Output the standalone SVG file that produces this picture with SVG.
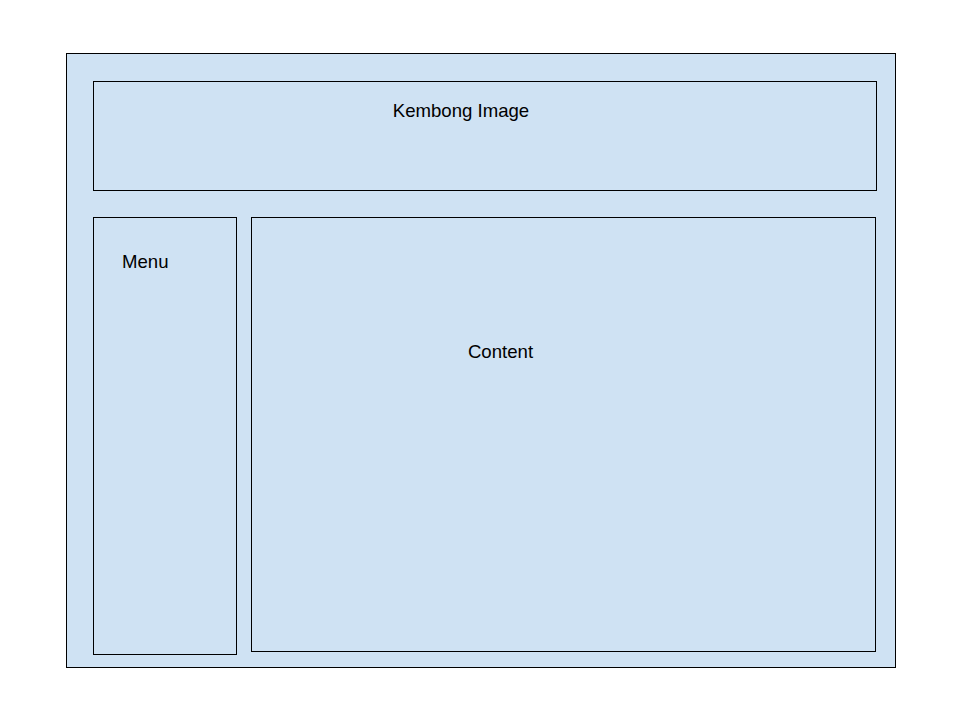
<svg xmlns="http://www.w3.org/2000/svg" width="960" height="720" viewBox="0 0 960 720">
<style>
.box{fill:#cfe2f3;stroke:#000;stroke-width:1}
.lbl{font-family:"Liberation Sans",Arial,sans-serif;font-size:18.6px;fill:#000}
</style>
<rect width="960" height="720" fill="#fff"/>
<g id="page"><rect class="box" x="66.5" y="53.5" width="829" height="614"/></g>
<g id="header"><rect class="box" x="93.5" y="81.5" width="783" height="109"/><text class="lbl" x="461" y="117" text-anchor="middle">Kembong Image</text></g>
<g id="menu"><rect class="box" x="93.5" y="217.5" width="143" height="437"/><text class="lbl" x="122" y="268">Menu</text></g>
<g id="content"><rect class="box" x="251.5" y="217.5" width="624" height="434"/><text class="lbl" x="500.5" y="358" text-anchor="middle">Content</text></g>
<g id="connectors"></g>
</svg>
